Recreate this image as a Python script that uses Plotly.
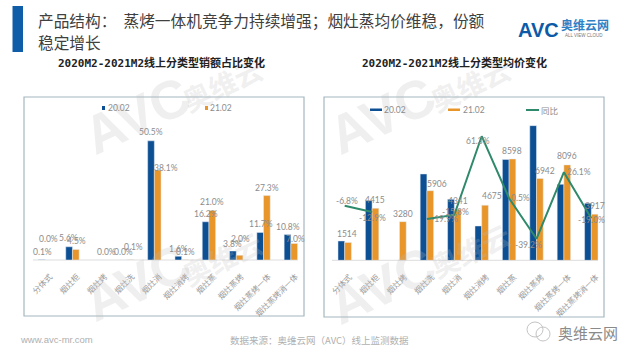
import plotly.graph_objects as go

categories = ["分体式", "烟灶柜", "烟灶烤", "烟灶洗", "烟灶消", "烟灶消烤", "烟灶蒸", "烟灶蒸烤", "烟灶蒸烤一体", "烟灶蒸烤消一体"]
share_2002 = [0.1, 5.6, 0.0, 0.0, 50.5, 1.6, 16.2, 3.8, 11.7, 10.8]
share_2102 = [0.0, 4.5, 0.0, 0.1, 38.1, 0.1, 21.0, 2.0, 27.3, 7.0]
share_labels_2002 = ["0.1%", "5.6%", "", "0.0%", "50.5%", "1.6%", "16.2%", "3.8%", "11.7%", "10.8%"]
share_labels_2102 = ["0.0%", "4.5%", "0.0%", "0.1%", "38.1%", "0.1%", "21.0%", "2.0%", "27.3%", "7.0%"]
price_2002 = [1640, 5063, None, 7325, 5176, 2913, 8555, 11426, 6449, 4837]
price_2102 = [1514, 4415, 3280, 5906, 4341, 4675, 8598, 6942, 8096, 3917]
yoy = [-6.8, -12.9, None, -19.9, -15.8, 61.3, 0.5, -39.2, 26.1, -19.0]
yoy_labels = ["-6.8%", "-12.9%", "", "-19.9%", "-15.8%", "61.3%", "0.5%", "-39.2%", "26.1%", "-19.0%"]

NAVY, ORANGE, GREEN = "#0c4f93", "#e8952a", "#2f8a6b"
GREY = "#8c8c8c"
W, H = 640, 360
CJK = "Noto Sans CJK SC"
NUM = "Lato, Noto Sans CJK SC"

def px(x): return x / W
def py(y): return 1 - y / H

fig = go.Figure()
fig.add_bar(x=categories, y=share_2002, marker_color=NAVY, xaxis="x", yaxis="y", showlegend=False, name="20.02")
fig.add_bar(x=categories, y=share_2102, marker_color=ORANGE, xaxis="x", yaxis="y", showlegend=False, name="21.02")
fig.add_bar(x=categories, y=price_2002, marker_color=NAVY, xaxis="x2", yaxis="y2", showlegend=False, name="20.02")
fig.add_bar(x=categories, y=price_2102, marker_color=ORANGE, xaxis="x2", yaxis="y2", showlegend=False, name="21.02")
fig.add_scatter(x=categories, y=yoy, mode="lines", line=dict(color=GREEN, width=2), xaxis="x2", yaxis="y3",
                showlegend=False, name="同比", connectgaps=False)

tick = dict(tickangle=-45, tickfont=dict(family=CJK, size=8, color="#9a9a9a"), showgrid=False, zeroline=False,
            ticks="outside", ticklen=8, tickcolor="rgba(0,0,0,0)", showline=False, type="category", range=[-0.5, 9.5],
            automargin=False, ticklabelshift=5)
hidden = dict(visible=False, showgrid=False, zeroline=False, fixedrange=True)

annots = []
def note(text, x, y, size=9, color=GREY, family=NUM, xanchor="center", angle=0):
    annots.append(dict(text=text, x=px(x), y=py(y), xref="paper", yref="paper", showarrow=False,
                       font=dict(family=family, size=size, color=color),
                       xanchor=xanchor, yanchor="middle", textangle=angle, borderpad=0))

def datalabel(text, cat, val, xa, ya, dx, dy):
    if text:
        annots.append(dict(text=text, x=categories[cat], y=val, xref=xa, yref=ya, showarrow=False, xshift=dx, yshift=dy,
                           font=dict(family=NUM, size=8.5, color=GREY), xanchor="center", yanchor="middle"))

# watermarks
WM = "rgba(190,190,190,0.24)"
for x, y in [(137, 115), (137, 282), (382, 115), (382, 285)]:
    note("<b>AVC</b>", x, y, size=54, color=WM, family="Liberation Sans", angle=-25)
for x, y in [(222, 84), (222, 258), (470, 84), (470, 250)]:
    note("<b>奥维云</b>", x, y, size=28, color=WM, family=CJK, angle=-25)

# left labels
left_off1 = [(-3, 8), (-4, 9), (0, 0), (-4, 8), (-3, 9), (-3, 7), (-3, 8), (-4, 7), (-3, 8), (-3, 8)]
left_off2 = [(3, 21), (4, 8), (7, 8), (6, 13), (12, 2), (4, 8), (3, 8), (4, 16), (3, 8), (5, 4)]
for i in range(10):
    datalabel(share_labels_2002[i], i, share_2002[i], "x", "y", *left_off1[i])
    datalabel(share_labels_2102[i], i, share_2102[i], "x", "y", *left_off2[i])

# right labels
price_off = [(2, 8), (3, 8), (3, 8), (10, 7), (4, 8), (10, 9), (3, 8), (8, 7), (3, 9), (4, 8)]
for i in range(10):
    datalabel(str(price_2102[i]), i, price_2102[i], "x2", "y2", *price_off[i])
yoy_off = [(2, 5), (0, -6), (0, 0), (18, 0), (1, 3), (-4, -5), (11, 0), (-8, -6), (15, 0), (0, -2)]
for i in range(10):
    if yoy_labels[i]:
        datalabel(yoy_labels[i], i, yoy[i], "x2", "y3", *yoy_off[i])

# text
note("产品结构：  蒸烤一体机竞争力持续增强；烟灶蒸均价维稳，份额", 37, 20, size=15.7, color="#404040", family=CJK, xanchor="left")
note("稳定增长", 37, 42, size=15.7, color="#404040", family=CJK, xanchor="left")
SUB = "DejaVu Sans Mono, Noto Sans CJK SC"
note("<b>2020M2-2021M2线上分类型销额占比变化</b>", 161, 63, size=11, color="#222222", family=SUB)
note("<b>2020M2-2021M2线上分类型均价变化</b>", 454, 63, size=11, color="#222222", family=SUB)
note("<b>AVC</b>", 538, 30, size=20, color="#0d5aa7", family="Liberation Sans")
note("<b>奥维云网</b>", 585, 25, size=12, color="#2f80c4", family=CJK)
note("ALL VIEW CLOUD", 584, 36, size=4.5, color="#777777", family="Liberation Sans")
note("www.avc-mr.com", 56, 339, size=9.5, color="#b0b0b0", family="Liberation Sans")
note("数据来源：奥维云网（AVC）线上监测数据", 319, 340, size=9.5, color="#b0b0b0", family=CJK)
note("奥维云网", 588, 332, size=15, color="#8a8a8a", family=CJK)

# legends
note("20.02", 107, 108, size=8.5, xanchor="left")
note("21.02", 209, 108, size=8.5, xanchor="left")
note("20.02", 383, 110, size=8.5, xanchor="left")
note("21.02", 462, 110, size=8.5, xanchor="left")
note("同比", 540, 110, size=8.5, family=CJK, xanchor="left")

def rect(x0, y0, x1, y1, fill=None, line=None, width=1):
    return dict(type="rect", xref="paper", yref="paper", x0=px(x0), x1=px(x1), y0=py(y1), y1=py(y0),
                fillcolor=fill or "rgba(0,0,0,0)", line=dict(color=line or "rgba(0,0,0,0)", width=width if line else 0), layer="below")

def circ(x0, y0, x1, y1):
    return dict(type="circle", xref="paper", yref="paper", x0=px(x0), x1=px(x1), y0=py(y1), y1=py(y0),
                line=dict(color="#c4c4c4", width=1))

shapes = [
    rect(12.5, 6, 23, 52, fill="#0f5ca8"),
    rect(24, 97, 304, 316, line="#a3b8bf", width=1.2),
    rect(324, 97, 604, 317, line="#a3b8bf", width=1.2),
    rect(102, 106, 105, 110, fill=NAVY),
    rect(205, 106, 208, 110, fill=ORANGE),
    rect(370, 108.5, 382, 111, fill=NAVY),
    rect(448, 108.5, 460, 111, fill=ORANGE),
    dict(type="line", xref="paper", yref="paper", x0=px(526), x1=px(539), y0=py(110), y1=py(110), line=dict(color=GREEN, width=2)),
    dict(type="line", xref="paper", yref="paper", x0=px(33), x1=px(298), y0=py(260), y1=py(260), line=dict(color="#dddddd", width=1), layer="below"),
    dict(type="line", xref="paper", yref="paper", x0=px(332), x1=px(598), y0=py(260.3), y1=py(260.3), line=dict(color="#dddddd", width=1), layer="below"),
    circ(527, 322, 543, 337),
    circ(536, 327, 550, 341),
]

fig.update_layout(
    width=W, height=H, autosize=False, margin=dict(l=0, r=0, t=0, b=0), paper_bgcolor="white", plot_bgcolor="rgba(0,0,0,0)",
    barmode="group", bargap=0.51, bargroupgap=0, showlegend=False,
    xaxis=dict(domain=[px(31.5), px(304.5)], anchor="y", **tick),
    xaxis2=dict(domain=[px(331), px(605)], anchor="y2", **tick),
    yaxis=dict(domain=[py(260), py(110)], range=[0, 150 / 2.36], anchor="x", **hidden),
    yaxis2=dict(domain=[py(260.3), py(110)], range=[0, 150.3 / 0.011786], anchor="x2", **hidden),
    yaxis3=dict(domain=[py(260.3), py(110)], range=[-60.3, 87], anchor="x2", overlaying="y2", side="right", **hidden),
    annotations=annots, shapes=shapes,
)
fig.write_html("out.html", config={"displayModeBar": False}, post_script="document.body.style.margin='0';")
